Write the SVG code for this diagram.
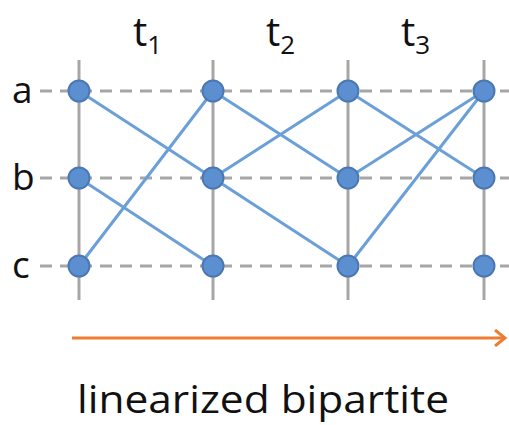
<svg xmlns="http://www.w3.org/2000/svg" width="509" height="425" viewBox="0 0 509 425">
<style>
.v{stroke:#a6a6a6;stroke-width:3}
.h{stroke:#a6a6a6;stroke-width:3;stroke-dasharray:12 8}
.e{stroke:#6b9fd8;stroke-width:3;fill:none}
.n{fill:#5b8fd0;stroke:#4a78b4;stroke-width:2}
.t{font-family:"Open Sans","Liberation Sans",sans-serif;fill:#111}
</style>
<defs>
<marker id="ar" markerWidth="14" markerHeight="18" refX="11" refY="9" orient="auto" markerUnits="userSpaceOnUse">
<path d="M1,1 L11,9 L1,17" fill="none" stroke="#ed7d31" stroke-width="3"/>
</marker>
</defs>
<rect width="509" height="425" fill="#fff"/>
<g id="grid">
<line class="v" x1="79" y1="60" x2="79" y2="300"/>
<line class="v" x1="213" y1="60" x2="213" y2="300"/>
<line class="v" x1="348" y1="60" x2="348" y2="300"/>
<line class="v" x1="484" y1="60" x2="484" y2="300"/>
<line class="h" x1="40" y1="91" x2="509" y2="91"/>
<line class="h" x1="40" y1="178" x2="509" y2="178"/>
<line class="h" x1="40" y1="266" x2="509" y2="266"/>
</g>
<g id="labels">
<text class="t" x="133" y="46" font-size="40">t<tspan font-size="26" dy="8">1</tspan></text>
<text class="t" x="266" y="46" font-size="40">t<tspan font-size="26" dy="8">2</tspan></text>
<text class="t" x="401" y="46" font-size="40">t<tspan font-size="26" dy="8">3</tspan></text>
<text class="t" x="12" y="103" font-size="37">a</text>
<text class="t" x="12" y="190" font-size="37">b</text>
<text class="t" x="12" y="278" font-size="37">c</text>
</g>
<g id="connectors">
<line class="e" x1="79" y1="91" x2="213" y2="178"/>
<line class="e" x1="79" y1="266" x2="213" y2="91"/>
<line class="e" x1="79" y1="178" x2="213" y2="266"/>
<line class="e" x1="213" y1="91" x2="348" y2="178"/>
<line class="e" x1="213" y1="178" x2="348" y2="91"/>
<line class="e" x1="213" y1="178" x2="348" y2="266"/>
<line class="e" x1="348" y1="91" x2="484" y2="178"/>
<line class="e" x1="348" y1="178" x2="484" y2="91"/>
<line class="e" x1="348" y1="266" x2="484" y2="91"/>
</g>
<g id="a1"><circle class="n" cx="79" cy="91" r="10.5"/></g>
<g id="b1"><circle class="n" cx="79" cy="178" r="10.5"/></g>
<g id="c1"><circle class="n" cx="79" cy="266" r="10.5"/></g>
<g id="a2"><circle class="n" cx="213" cy="91" r="10.5"/></g>
<g id="b2"><circle class="n" cx="213" cy="178" r="10.5"/></g>
<g id="c2"><circle class="n" cx="213" cy="266" r="10.5"/></g>
<g id="a3"><circle class="n" cx="348" cy="91" r="10.5"/></g>
<g id="b3"><circle class="n" cx="348" cy="178" r="10.5"/></g>
<g id="c3"><circle class="n" cx="348" cy="266" r="10.5"/></g>
<g id="a4"><circle class="n" cx="484" cy="91" r="10.5"/></g>
<g id="b4"><circle class="n" cx="484" cy="178" r="10.5"/></g>
<g id="c4"><circle class="n" cx="484" cy="266" r="10.5"/></g>
<g id="arrow">
<line x1="72" y1="338" x2="505" y2="338" stroke="#ed7d31" stroke-width="3" marker-end="url(#ar)"/>
</g>
<text class="t" x="77" y="413" font-size="38" textLength="372" lengthAdjust="spacingAndGlyphs">linearized bipartite</text>
</svg>
